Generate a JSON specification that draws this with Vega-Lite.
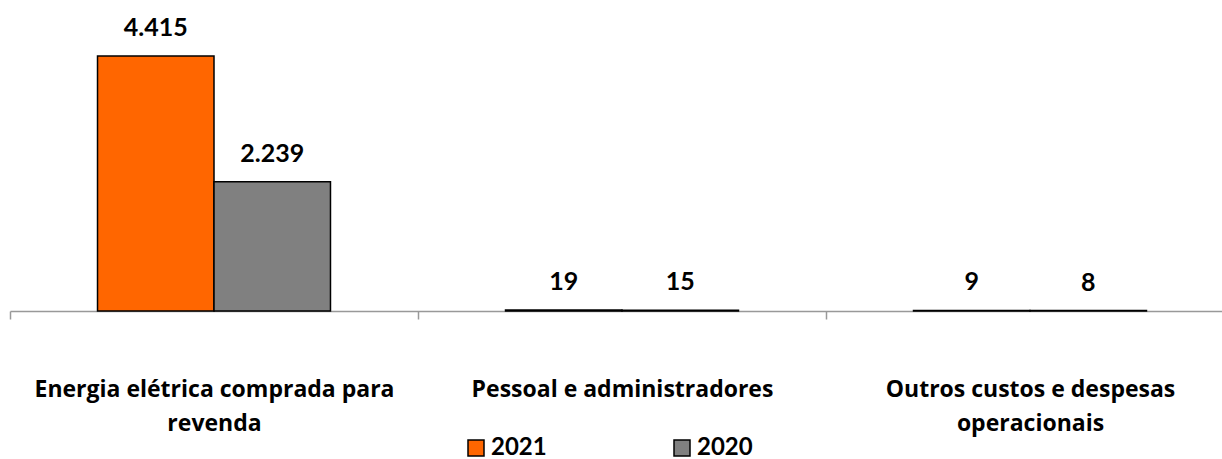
{
  "$schema": "https://vega.github.io/schema/vega-lite/v6.json",
  "width": 1222,
  "height": 311,
  "autosize": {"type": "none"},
  "padding": {"left": 0, "top": 0, "right": 0, "bottom": 148},
  "background": "white",
  "config": {
    "view": {"stroke": null},
    "font": "Lato",
    "locale": {"number": {"decimal": ",", "thousands": ".", "grouping": [3], "currency": ["R$", ""]}}
  },
  "data": {
    "values": [
      {"categoria": "Energia elétrica comprada para revenda", "ano": "2021", "valor": 4415},
      {"categoria": "Energia elétrica comprada para revenda", "ano": "2020", "valor": 2239},
      {"categoria": "Pessoal e administradores", "ano": "2021", "valor": 19},
      {"categoria": "Pessoal e administradores", "ano": "2020", "valor": 15},
      {"categoria": "Outros custos e despesas operacionais", "ano": "2021", "valor": 9},
      {"categoria": "Outros custos e despesas operacionais", "ano": "2020", "valor": 8}
    ]
  },
  "encoding": {
    "x": {
      "field": "categoria",
      "type": "nominal",
      "sort": ["Energia elétrica comprada para revenda", "Pessoal e administradores", "Outros custos e despesas operacionais"],
      "scale": {"range": [10, 1234], "paddingInner": 0.429, "paddingOuter": 0.2145},
      "axis": {
        "title": null,
        "bandPosition": 0,
        "tickOffset": -87.5,
        "labelOffset": 87.5,
        "tickSize": 8,
        "labelPadding": 59,
        "domainColor": "#999999",
        "tickColor": "#999999",
        "domainWidth": 1.5,
        "tickWidth": 1.5,
        "labelFont": "Open Sans",
        "labelFontSize": 23,
        "labelFontWeight": "bold",
        "labelColor": "black",
        "labelLineHeight": 34,
        "labelAngle": 0,
        "labelLimit": 0,
        "labelFlush": false,
        "labelOverlap": false,
        "labelExpr": "datum.value == 'Energia elétrica comprada para revenda' ? ['Energia elétrica comprada para', 'revenda'] : datum.value == 'Outros custos e despesas operacionais' ? ['Outros custos e despesas', 'operacionais'] : datum.value"
      }
    },
    "xOffset": {"field": "ano", "type": "nominal", "sort": ["2021", "2020"]},
    "y": {
      "field": "valor",
      "type": "quantitative",
      "scale": {"domain": [0, 5385], "nice": false, "zero": true},
      "axis": null
    }
  },
  "layer": [
    {
      "mark": {"type": "bar", "stroke": "black", "strokeWidth": 1.5},
      "encoding": {
        "color": {
          "field": "ano",
          "type": "nominal",
          "sort": ["2021", "2020"],
          "scale": {"domain": ["2021", "2020"], "range": ["#FF6600", "#808080"]},
          "legend": {
            "orient": "none",
            "legendX": 464,
            "legendY": 436,
            "direction": "horizontal",
            "title": null,
            "symbolType": "square",
            "symbolSize": 256,
            "symbolStrokeColor": "black",
            "symbolStrokeWidth": 1.5,
            "symbolOpacity": 1,
            "labelFont": "Lato",
            "labelFontSize": 24,
            "labelFontWeight": "bold",
            "labelColor": "black",
            "labelOffset": 3,
            "columnPadding": 123
          }
        }
      }
    },
    {
      "mark": {"type": "text", "baseline": "alphabetic", "dy": -20, "fontSize": 25, "fontWeight": "bold", "font": "Lato", "color": "black"},
      "encoding": {
        "text": {"field": "valor", "type": "quantitative", "format": ",.0f"}
      }
    }
  ]
}
